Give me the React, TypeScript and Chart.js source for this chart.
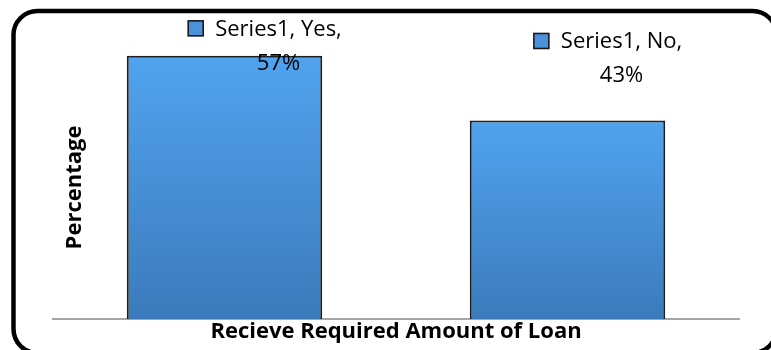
import React, { useEffect, useRef } from "react";
import { Chart, registerables } from "chart.js";

Chart.register(...registerables);

const categories = ["Yes", "No"];
const seriesName = "Series1";
const values = [57, 43];
const yMax = 60;
const xTitle = "Recieve Required Amount of Loan";
const yTitle = "Percentage";

// label placement (styling, not data)
const labelDx = 54;
const labelDy = [-20, -72];
const labelLineGap = 34;

const FONT = "'Open Sans', 'DejaVu Sans', sans-serif";

const decorPlugin = {
  id: "decor",
  beforeDraw(chart: any) {
    const ctx = chart.ctx;
    ctx.save();
    ctx.fillStyle = "#ffffff";
    ctx.fillRect(0, 0, chart.width, chart.height);
    ctx.beginPath();
    ctx.roundRect(13.5, 11, 763, 342, 24);
    ctx.lineWidth = 4.5;
    ctx.strokeStyle = "#000000";
    ctx.stroke();
    ctx.restore();
  },
  afterDraw(chart: any) {
    const ctx = chart.ctx;
    const area = chart.chartArea;
    ctx.save();
    // y axis title
    ctx.translate(area.left + 22, (area.top + area.bottom) / 2 + 7);
    ctx.rotate(-Math.PI / 2);
    ctx.fillStyle = "#000";
    ctx.font = `bold 22px ${FONT}`;
    ctx.textAlign = "center";
    ctx.textBaseline = "middle";
    ctx.fillText(yTitle, 0, 0);
    ctx.restore();

    // data labels
    const meta = chart.getDatasetMeta(0);
    meta.data.forEach((bar: any, i: number) => {
      const cx = bar.x + labelDx;
      const base1 = bar.y + labelDy[i];
      const line1 = `${seriesName}, ${categories[i]},`;
      const line2 = `${values[i]}%`;
      ctx.save();
      ctx.font = `22px ${FONT}`;
      ctx.fillStyle = "#000";
      ctx.textAlign = "center";
      ctx.textBaseline = "alphabetic";
      ctx.fillText(line1, cx, base1);
      ctx.fillText(line2, cx, base1 + labelLineGap);
      const w = ctx.measureText(line1).width;
      const sqRight = cx - w / 2 - 12;
      const sz = 15;
      ctx.fillStyle = "#4a92dc";
      ctx.fillRect(sqRight - sz, base1 - sz, sz, sz);
      ctx.lineWidth = 1.6;
      ctx.strokeStyle = "#1a1a1a";
      ctx.strokeRect(sqRight - sz, base1 - sz, sz, sz);
      ctx.restore();
    });
  },
};

export default function App() {
  const ref = useRef<HTMLCanvasElement>(null);
  useEffect(() => {
    if (!ref.current) return;
    const chart = new Chart(ref.current, {
      type: "bar",
      data: {
        labels: categories,
        datasets: [
          {
            label: seriesName,
            data: values,
            barPercentage: 0.57,
            categoryPercentage: 1,
            borderColor: "#1f1f1f",
            borderWidth: 2,
            borderSkipped: "bottom",
            backgroundColor: (c: any) => {
              const chart = c.chart;
              const y = chart.scales && chart.scales.y;
              if (!y || c.type !== "data") return "#4a90d9";
              const top = y.getPixelForValue(c.raw);
              const bottom = y.getPixelForValue(0);
              if (!isFinite(top) || !isFinite(bottom) || top === bottom) return "#4a90d9";
              const g = chart.ctx.createLinearGradient(0, top, 0, bottom);
              g.addColorStop(0, "#51a3ef");
              g.addColorStop(1, "#3b7bbb");
              return g;
            },
          },
        ],
      },
      options: {
        responsive: false,
        animation: false,
        layout: { padding: { left: 53, right: 32, top: 42, bottom: 0 } },
        plugins: { legend: { display: false }, tooltip: { enabled: false } },
        scales: {
          x: {
            grid: { display: false, drawTicks: false },
            border: { display: true, color: "#a6a6a6", width: 2 },
            ticks: { display: false },
            title: {
              display: true,
              text: xTitle,
              color: "#000",
              font: { family: FONT, weight: "bold", size: 22 },
              padding: { top: 0, bottom: 5 },
            },
            afterFit(s: any) {
              s.height = 31;
            },
          },
          y: { display: false, min: 0, max: yMax },
        },
      },
      plugins: [decorPlugin],
    } as any);
    return () => chart.destroy();
  }, []);
  return (
    <div style={{ position: "absolute", left: 0, top: 0, width: 771, height: 350 }}>
      <canvas ref={ref} width={771} height={350} />
    </div>
  );
}
